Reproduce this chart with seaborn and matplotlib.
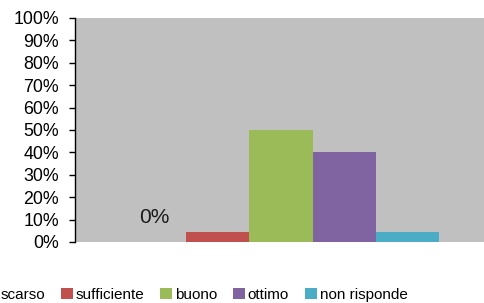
import matplotlib
matplotlib.use("Agg")
import matplotlib.pyplot as plt
import seaborn as sns
import pandas as pd
from matplotlib.ticker import PercentFormatter

series = ["scarso", "sufficiente", "buono", "ottimo", "non risponde"]
values = [0.0, 0.045, 0.50, 0.40, 0.045]
colors = ["#4f81bd", "#c0504d", "#9bbb59", "#8064a2", "#4bacc6"]
category = [""] * len(series)

df = pd.DataFrame({"cat": category, "serie": series, "val": values})

sns.set_style("white")
plt.rcParams["font.family"] = ["Liberation Sans", "DejaVu Sans"]
plt.rcParams["text.color"] = "black"

fig = plt.figure(figsize=(4.84, 3.03), dpi=100)
ax = fig.add_axes([75 / 484, 61 / 303, (487 - 75) / 484, (242 - 18) / 303])

sns.barplot(data=df, x="cat", y="val", hue="serie", palette=colors,
            width=5 / 6.5, saturation=1, ax=ax, errorbar=None, linewidth=0)

ax.set_facecolor("#c0c0c0")
ax.set_xlim(-0.5, 0.5)
ax.set_ylim(0, 1)
ax.set_yticks([i / 10 for i in range(11)])
ax.yaxis.set_major_formatter(PercentFormatter(1.0, decimals=0))
ax.tick_params(axis="y", length=4, width=1, color="black", pad=7.5,
               labelsize=12.8, labelcolor="black", left=True, direction="out")
ax.tick_params(axis="x", length=0, labelbottom=False)
ax.set_xlabel("")
ax.set_ylabel("")
for s in ["top", "right", "bottom"]:
    ax.spines[s].set_visible(False)
ax.spines["left"].set_color("black")
ax.spines["left"].set_linewidth(1)

ax.bar_label(ax.containers[0], labels=["0%"], padding=10.5, fontsize=15,
             color="#1a1a1a")

handles, labels = ax.get_legend_handles_labels()
ax.get_legend().remove()
fig.legend(handles, labels, loc="center left", bbox_to_anchor=(-14 / 484, 8 / 303),
           ncol=5, frameon=False, fontsize=11, handlelength=0.75, handleheight=0.75,
           handletextpad=0.2, columnspacing=1.05, borderaxespad=0, borderpad=0,
           labelcolor="black")

fig.savefig("out.png", dpi=100)
